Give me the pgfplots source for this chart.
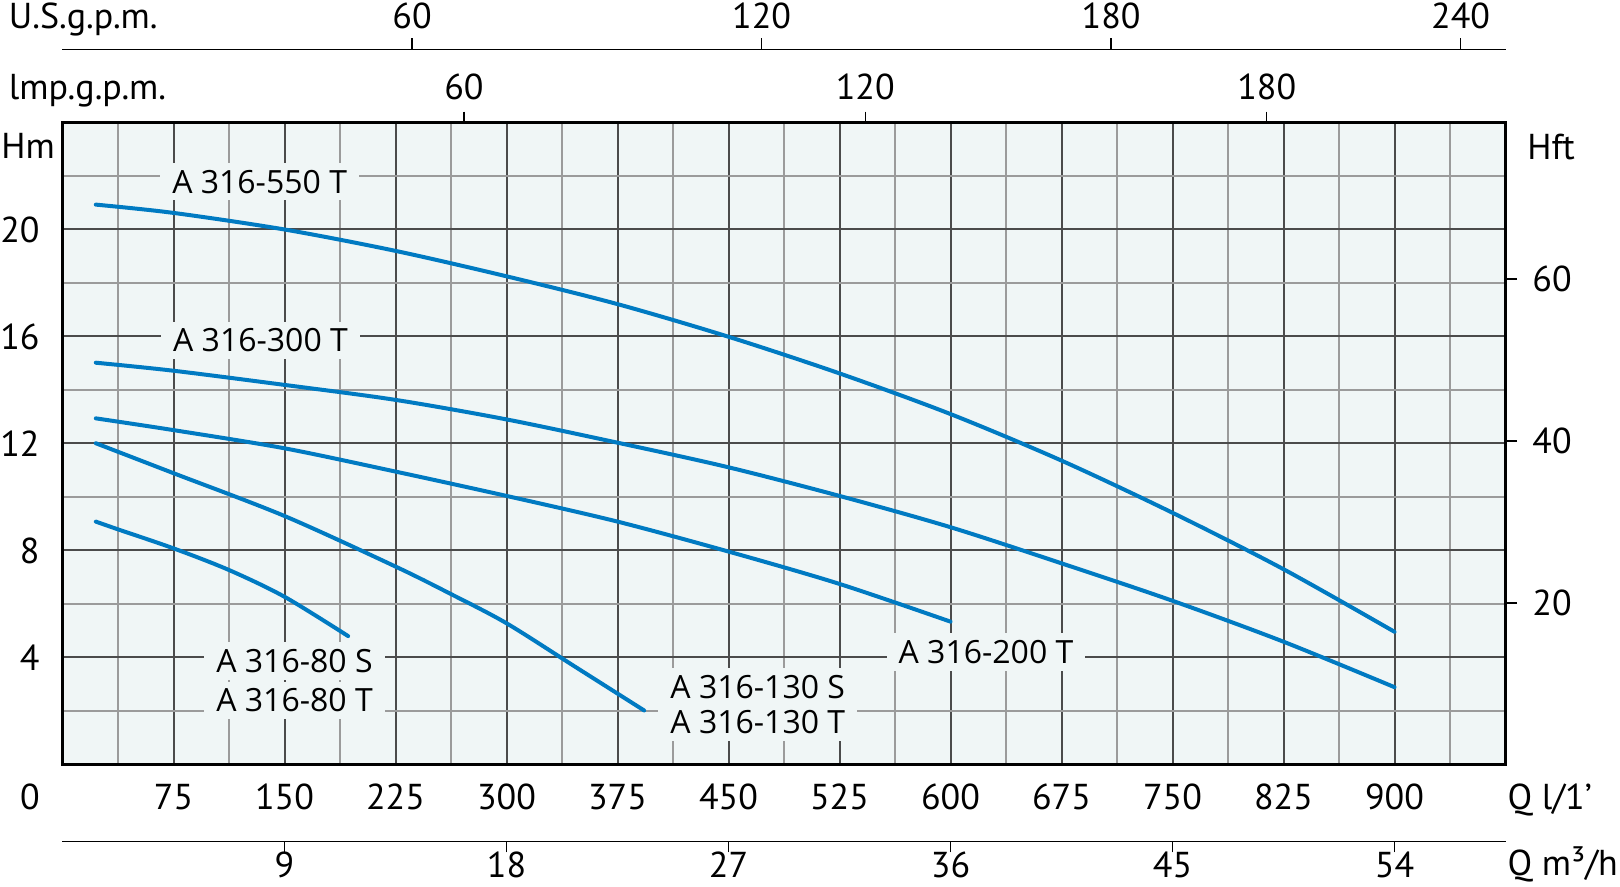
\documentclass[border=0pt]{standalone}
\usepackage{fontspec}
\setmainfont{PT Sans}
\newfontfamily\lblfont{Open Sans}
\usepackage{pgfplots}
\pgfplotsset{compat=1.18}
\definecolor{bgc}{RGB}{240,246,246}
\definecolor{curvec}{RGB}{0,122,194}
\definecolor{majg}{RGB}{75,75,75}
\definecolor{ming}{RGB}{155,155,155}
\newcommand{\axfont}{\fontsize{18}{21.6}\selectfont}
\tikzset{
  lbl/.style={fill=bgc, inner xsep=6pt, inner ysep=3.5pt, anchor=base west, xshift=-6pt,
    font=\lblfont\fontsize{16}{19}\selectfont},
  curve/.style={curvec, line width=2pt, smooth, line cap=round},
}
\begin{document}
\begin{tikzpicture}
\pgfplotsset{
  scaleaxis/.style={
    scale only axis, width=721.5pt, height=10pt,
    axis y line=none,
    axis line style={line width=0.7pt, black, -},
    tick style={black, line width=0.7pt},
    tick align=outside,
    ticklabel style={font=\axfont},
    /pgf/number format/assume math mode=true,
  },
}
% main axis (Q in l/min, H in m)
\begin{axis}[
  at={(0pt,0pt)}, anchor=south west,
  scale only axis, width=721.5pt, height=321pt,
  xmin=0, xmax=975, ymin=0, ymax=24,
  axis background/.style={fill=bgc},
  axis line style={line width=1.6pt, black},
  xtick={75,150,...,900},
  minor xtick={37.5,112.5,...,937.5},
  ytick={4,8,...,20},
  minor ytick={2,6,...,22},
  xmajorgrids, ymajorgrids, xminorgrids, yminorgrids,
  major grid style={majg, line width=1pt},
  minor grid style={ming, line width=0.55pt},
  major tick length=0pt, minor tick length=0pt,
  tick style={draw=none},
  ticklabel style={font=\axfont},
  xticklabel style={anchor=base, inner sep=0pt, yshift=-22.4pt},
  yticklabel style={anchor=east, inner sep=0pt, xshift=-11.25pt},
  /pgf/number format/assume math mode=true,
]
\addplot[curve] coordinates {(22.5,20.93) (75,20.62) (150,20.0) (225,19.2) (300,18.25) (375,17.21) (450,15.99) (525,14.62) (600,13.10) (675,11.36) (750,9.41) (825,7.30) (900,4.96)};
\addplot[curve] coordinates {(22.5,15.02) (75,14.72) (150,14.19) (225,13.63) (300,12.90) (375,12.03) (450,11.11) (525,10.04) (600,8.87) (675,7.52) (750,6.12) (825,4.59) (900,2.89)};
\addplot[curve] coordinates {(22.5,12.94) (75,12.50) (150,11.82) (225,10.95) (300,10.04) (375,9.08) (450,7.96) (525,6.75) (600,5.34)};
\addplot[curve] coordinates {(22.5,12.01) (75,10.89) (150,9.29) (225,7.40) (262.5,6.37) (300,5.28) (346.5,3.65) (393,2.02)};
\addplot[curve] coordinates {(22.5,9.08) (37.5,8.79) (75,8.08) (112.5,7.27) (150,6.27) (193,4.80)};
\node[lbl] at (axis cs:73.9,21.36) {A 316-550 T};
\node[lbl] at (axis cs:74.5,15.43) {A 316-300 T};
\node[lbl] at (axis cs:103.7,3.45) {A 316-80 S};
\node[lbl] at (axis cs:103.7,1.97) {A 316-80 T};
\node[lbl] at (axis cs:410.5,2.47) {A 316-130 S};
\node[lbl] at (axis cs:410.5,1.17) {A 316-130 T};
\node[lbl] at (axis cs:564.7,3.78) {A 316-200 T};
\end{axis}
% right axis: H in ft
\begin{axis}[
  at={(0pt,0pt)}, anchor=south west,
  scale only axis, width=721.5pt, height=321pt,
  xmin=0, xmax=1, ymin=0, ymax=79.37,
  axis x line=none, axis y line*=right,
  axis line style={line width=1.6pt, black, -},
  ytick={20,40,60},
  tick align=outside, major tick length=5.8pt,
  tick style={black, line width=0.8pt},
  ticklabel style={font=\axfont},
  yticklabel style={anchor=west, inner sep=0pt, xshift=7.45pt},
  /pgf/number format/assume math mode=true,
]
\addplot[draw=none] coordinates {(0,0)};
\end{axis}
% Imp.g.p.m. scale on the top edge
\begin{axis}[scaleaxis,
  at={(0pt,311pt)}, anchor=south west,
  xmin=0, xmax=215.7, ymin=0, ymax=1,
  axis x line*=top,
  axis line style={line width=1.6pt},
  xtick={60,120,180}, major tick length=5.4pt,
  xticklabel style={anchor=base, inner sep=0pt, yshift=5.85pt},
]
\addplot[draw=none] coordinates {(0,0)};
\end{axis}
% U.S.g.p.m. scale
\begin{axis}[scaleaxis,
  at={(0pt,347.6pt)}, anchor=south west,
  xmin=0, xmax=247.7, ymin=0, ymax=1,
  axis x line*=top,
  xtick={60,120,180,240}, major tick length=5.5pt,
  xticklabel style={anchor=base, inner sep=0pt, yshift=5pt},
]
\addplot[draw=none] coordinates {(0,0)};
\end{axis}
% m3/h scale
\begin{axis}[scaleaxis,
  at={(0pt,-38.6pt)}, anchor=south west,
  xmin=0, xmax=58.5, ymin=0, ymax=1,
  axis x line*=bottom,
  xtick={9,18,...,54}, major tick length=5.3pt,
  xticklabel style={anchor=base, inner sep=0pt, yshift=-12.6pt},
]
\addplot[draw=none] coordinates {(0,0.5)};
\end{axis}
\begin{scope}[every node/.style={inner sep=0pt, font=\axfont}]
\node[anchor=base west] at (-27pt,368.1pt) {U.S.g.p.m.};
\node[anchor=base west] at (-27pt,332.25pt) {lmp.g.p.m.};
\node[anchor=base west] at (-30.75pt,303pt) {Hm};
\node[anchor=base west] at (732.25pt,302.6pt) {Hft};
\node[anchor=base] at (-16.25pt,-22.4pt) {0};
\node[anchor=base west] at (722.4pt,-22.4pt) {Q l/1’};
\node[anchor=base west] at (722.4pt,-55.6pt) {Q m³/h};
\end{scope}
\pgfresetboundingbox
\useasboundingbox (-31.25pt,-61.25pt) rectangle (778.75pt,382.25pt);
\end{tikzpicture}
\end{document}
